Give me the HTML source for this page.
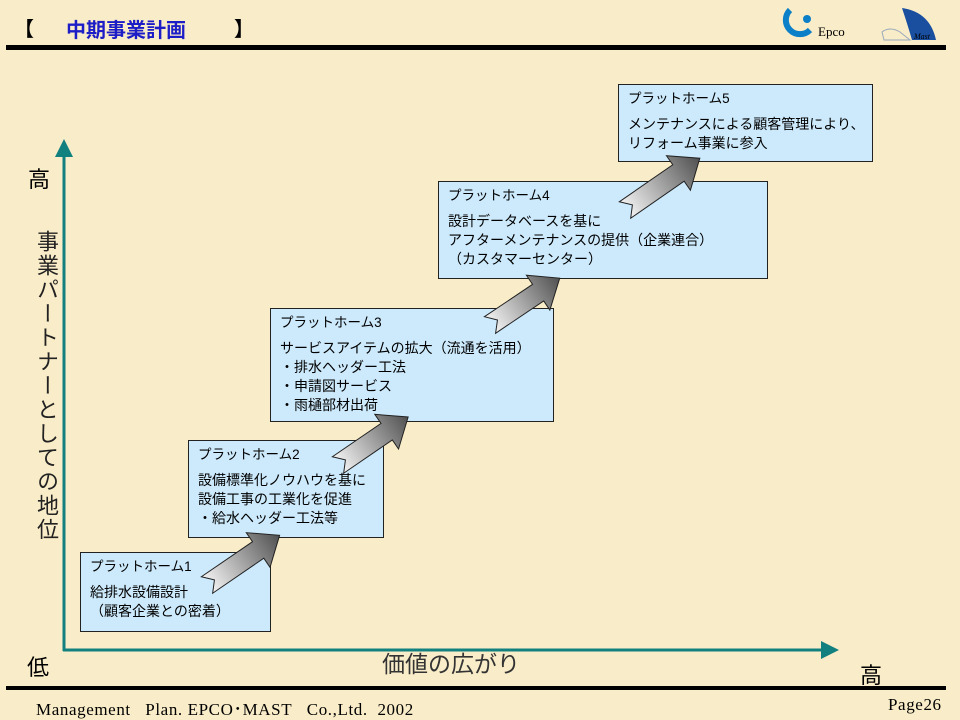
<!DOCTYPE html>
<html><head><meta charset="utf-8"><style>
body{margin:0;width:960px;height:720px;overflow:hidden;background:#f9ecc8;font-family:"Liberation Sans","Noto Sans CJK JP",sans-serif;position:relative}
.box{position:absolute;background:#cdeafc;border:1px solid #222;box-sizing:border-box;font-size:14px;line-height:19px;color:#000;padding:4px 0 0 9px;white-space:nowrap}
.box .t{margin-bottom:7px;font-size:13.5px}
.abs{position:absolute;white-space:nowrap}
</style></head><body>
<div class="abs" style="left:14px;top:13px;font-size:20px;font-weight:bold;color:#000">【</div>
<div class="abs" style="left:66px;top:14px;font-size:20px;font-weight:bold;color:#1d1dc8">中期事業計画</div>
<div class="abs" style="left:234px;top:13px;font-size:20px;font-weight:bold;color:#000">】</div>
<div style="position:absolute;left:6px;top:45px;width:940px;height:5px;background:#000"></div>
<svg class="abs" style="left:780px;top:6px" width="170" height="38">
<path d="M10 4 A13 13 0 1 0 30 24" fill="none" stroke="#0b7fc7" stroke-width="6"/>
<circle cx="27" cy="13" r="4" fill="#0b7fc7"/>
<text x="38" y="30" font-family="Liberation Serif" font-size="13">Epco</text>
<path d="M122 2 Q150 6 156 34 L132 34 Q128 20 122 2Z" fill="#1a4fa0"/>
<path d="M102 26 Q110 20 120 26 L130 34 L104 34Z" fill="none" stroke="#9ab" stroke-width="1"/>
<text x="134" y="33" font-family="Liberation Serif" font-style="italic" font-size="8">Mast</text>
</svg>
<svg class="abs" style="left:0;top:0" width="960" height="720">
<defs>
<linearGradient id="g" x1="0" y1="0" x2="1" y2="0"><stop offset="0" stop-color="#f4f4f4"/><stop offset="1" stop-color="#505050"/></linearGradient>
<marker id="m" markerWidth="6" markerHeight="6" refX="3" refY="3" orient="auto"><path d="M0 0L6 3L0 6Z" fill="#138080"/></marker>
</defs>
<line x1="64" y1="651" x2="64" y2="148" stroke="#138080" stroke-width="3" marker-end="url(#m)"/>
<line x1="63" y1="650" x2="830" y2="650" stroke="#138080" stroke-width="3" marker-end="url(#m)"/>
</svg>
<div class="abs" style="left:28px;top:162px;font-size:22px">高</div>
<div class="abs" style="left:30px;top:230px;font-size:22px;writing-mode:vertical-rl;letter-spacing:2px;color:#222">事業パートナーとしての地位</div>
<div class="abs" style="left:27px;top:650px;font-size:22px">低</div>
<div class="abs" style="left:382px;top:645px;font-size:23px;color:#333">価値の広がり</div>
<div class="abs" style="left:860px;top:658px;font-size:22px">高</div>

<div class="box" style="left:80px;top:552px;width:191px;height:80px"><div class="t">プラットホーム1</div>給排水設備設計<br>（顧客企業との密着）</div>
<div class="box" style="left:188px;top:440px;width:196px;height:98px"><div class="t">プラットホーム2</div>設備標準化ノウハウを基に<br>設備工事の工業化を促進<br>・給水ヘッダー工法等</div>
<div class="box" style="left:270px;top:308px;width:284px;height:114px"><div class="t">プラットホーム3</div>サービスアイテムの拡大（流通を活用）<br>・排水ヘッダー工法<br>・申請図サービス<br>・雨樋部材出荷</div>
<div class="box" style="left:438px;top:181px;width:330px;height:98px"><div class="t">プラットホーム4</div>設計データベースを基に<br>アフターメンテナンスの提供（企業連合）<br>（カスタマーセンター）</div>
<div class="box" style="left:618px;top:84px;width:255px;height:78px"><div class="t">プラットホーム5</div>メンテナンスによる顧客管理により、<br>リフォーム事業に参入</div>

<svg class="abs" style="left:0;top:0" width="960" height="720">
<g stroke="#222" stroke-width="1" fill="url(#g)">
<polygon transform="translate(207,585) rotate(-34.4)" points="0,-10 62,-10 62,-21 88,0 62,21 62,10 0,10 9,0"/>
<polygon transform="translate(338,465) rotate(-34.4)" points="0,-10 59,-10 59,-21 85,0 59,21 59,10 0,10 9,0"/>
<polygon transform="translate(490,325) rotate(-33.9)" points="0,-10 58,-10 58,-21 84,0 58,21 58,10 0,10 9,0"/>
<polygon transform="translate(625,210) rotate(-34.7)" points="0,-10 65,-10 65,-21 91,0 65,21 65,10 0,10 9,0"/>
</g></svg>

<div style="position:absolute;left:6px;top:686px;width:940px;height:4px;background:#000"></div>
<div class="abs" style="left:36px;top:695px;font-family:'Liberation Serif',serif;font-size:17px;letter-spacing:0.6px">Management&nbsp;&nbsp; Plan. EPCO･MAST&nbsp;&nbsp; Co.,Ltd.&nbsp; 2002</div>
<div class="abs" style="left:888px;top:695px;font-family:'Liberation Serif',serif;font-size:17px;letter-spacing:0.6px">Page26</div>
</body></html>
